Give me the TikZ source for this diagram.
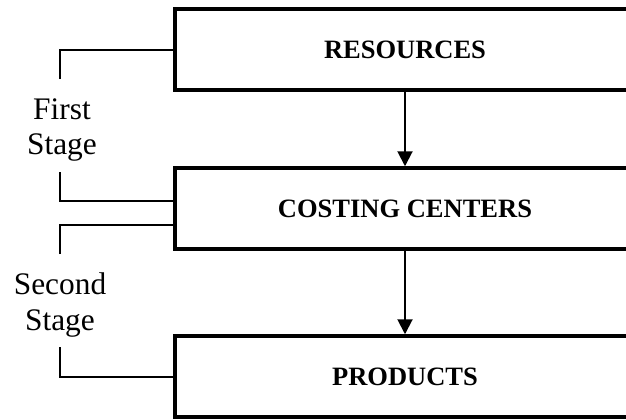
\documentclass[tikz,border=0pt]{standalone}
\usepackage{fontspec}
\setmainfont{Liberation Serif}
\usetikzlibrary{arrows.meta}
\begin{document}
\begin{tikzpicture}[x=1bp,y=-1bp,
  stagebox/.style={draw,line width=3.5bp,minimum width=460bp,minimum height=81bp,
    inner sep=0pt,font=\fontsize{26.6}{30}\selectfont\bfseries},
  stagelabel/.style={align=center,inner sep=0pt,font=\fontsize{31.5}{36}\selectfont},
  bracket/.style={line width=2bp},
  flow/.style={line width=2bp,-{Triangle[length=15bp,width=15bp]}}]
  \useasboundingbox (0,0) rectangle (626,419);
  \clip (0,0) rectangle (626,419);
  % the three cost pools (right ends run past the page edge)
  \node[stagebox] (res)  at (405,49.5)  {RESOURCES};
  \node[stagebox] (cc)   at (405,208.5) {COSTING CENTERS};
  \node[stagebox] (prod) at (405,376.5) {PRODUCTS};
  % allocation flow
  \draw[flow] (res.south) -- (cc.north);
  \draw[flow] (cc.south) -- (prod.north);
  % stage labels
  \node[stagelabel] (first)  at (62,130) {First\\Stage};
  \node[stagelabel] (second) at (60,305) {Second\\Stage};
  % bracket ends
  \coordinate (f1) at (60,79);
  \coordinate (f2) at (60,172);
  \coordinate (s1) at (60,254);
  \coordinate (s2) at (60,347);
  \coordinate (ccA) at (cc.west |- 0,201);
  \coordinate (ccB) at (cc.west |- 0,225);
  \draw[bracket] (f1) |- (res.west);
  \draw[bracket] (f2) |- (ccA);
  \draw[bracket] (s1) |- (ccB);
  \draw[bracket] (s2) |- (prod.west);
\end{tikzpicture}
\end{document}
